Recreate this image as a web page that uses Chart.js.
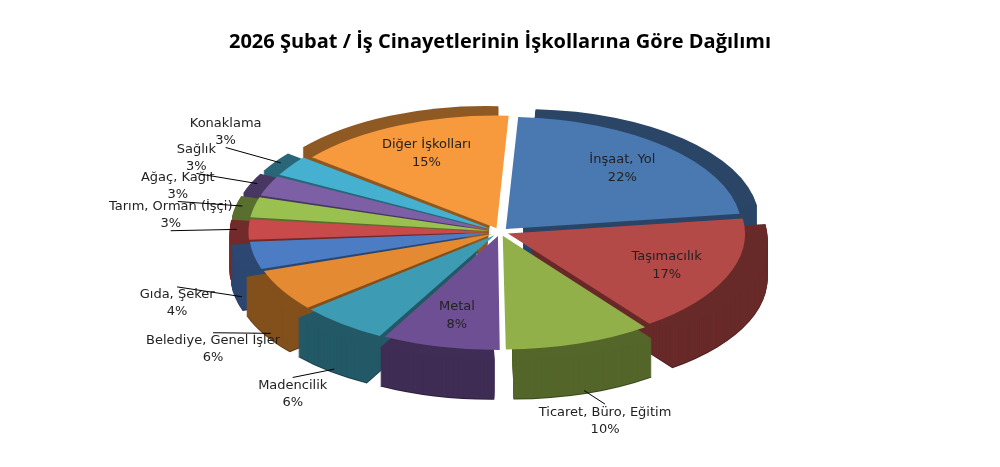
<!DOCTYPE html>
<html><head><meta charset="utf-8">
<script src="https://cdn.jsdelivr.net/npm/chart.js@4"></script>
<style>body{margin:0;background:#fff}#w{width:1000px;height:467px}</style>
</head><body><div id="w"><canvas id="c"></canvas></div>
<script>
const categories=["İnşaat, Yol","Taşımacılık","Ticaret, Büro, Eğitim","Metal","Madencilik","Belediye, Genel İşler","Gıda, Şeker","Tarım, Orman (İşçi)","Ağaç, Kağıt","Sağlık","Konaklama","Diğer İşkolları"];
const values=[22,17,10,8,6,6,4,3,3,3,3,15];
const colors=["#4a78b0","#b44a47","#91b04a","#6e4f93","#3d9bb3","#e38a32","#4c7cc4","#c84a4a","#9ac050","#7d5fa6","#45b0cf","#f79a3e"];
const inside=[true,true,false,true,false,false,false,false,false,false,false,true];
const TCX=500,TCY=232,RX=236,RY=112,DEPTH=40;
function dark(h,f){const n=parseInt(h.slice(1),16);return `rgb(${((n>>16)&255)*f|0},${((n>>8)&255)*f|0},${(n&255)*f|0})`;}
let T=null;
function calcT(chart){const a=chart.getDatasetMeta(0).data[0];const r=a.outerRadius;T={cx:a.x,cy:a.y,r,sx:RX/r,sy:RY/r};}
function map(x,y){return [TCX+(x-T.cx)*T.sx,TCY+(y-T.cy)*T.sy];}
const p3d={id:'p3d',
beforeDatasetsDraw(chart){calcT(chart);const ctx=chart.ctx;const meta=chart.getDatasetMeta(0);
 ctx.save();ctx.translate(TCX,TCY);ctx.scale(T.sx,T.sy);ctx.translate(-T.cx,-T.cy);
 for(let d=DEPTH;d>=1;d-=1){meta.data.forEach((a,i)=>{const mid=(a.startAngle+a.endAngle)/2;const off=a.options.offset;
  const ox=a.x+off*Math.cos(mid),oy=a.y+off*Math.sin(mid)+d/T.sy;
  ctx.beginPath();ctx.moveTo(ox,oy);ctx.arc(ox,oy,a.outerRadius,a.startAngle,a.endAngle);ctx.closePath();
  ctx.fillStyle=dark(colors[i],d===DEPTH?0.4:0.58);ctx.fill();});}
},
afterDatasetsDraw(chart){chart.ctx.restore();},
afterDraw(chart){const ctx=chart.ctx;const meta=chart.getDatasetMeta(0);
 ctx.save();ctx.font='13px "DejaVu Sans", sans-serif';ctx.textAlign='center';ctx.textBaseline='middle';
 meta.data.forEach((a,i)=>{const off=a.options.offset;const mid=(a.startAngle+a.endAngle)/2;const txt=[categories[i],values[i]+'%'];
  if(inside[i]){const [x,y]=map(a.x+(off+a.outerRadius*0.62)*Math.cos(mid),a.y+(off+a.outerRadius*0.62)*Math.sin(mid));
   ctx.fillStyle='#222';ctx.fillText(txt[0],x,y-9);ctx.fillText(txt[1],x,y+9);}
  else{const down=Math.sin(mid)>0;const [ex,ey]=map(a.x+(off+a.outerRadius*0.97)*Math.cos(mid),a.y+(off+a.outerRadius*0.97)*Math.sin(mid));
   const k=1.25;const [lx,ly]=map(a.x+(off+a.outerRadius*k)*Math.cos(mid),a.y+(off+a.outerRadius*k)*Math.sin(mid));
   const yy=ly+(down?DEPTH:-14);
   ctx.strokeStyle='#000';ctx.lineWidth=1;ctx.beginPath();ctx.moveTo(ex,ey+(down?DEPTH:0));ctx.lineTo(lx,yy+(down?-16:16));ctx.stroke();
   ctx.fillStyle='#222';ctx.fillText(txt[0],lx,yy-8);ctx.fillText(txt[1],lx,yy+9);}
 });ctx.restore();}
};
new Chart(document.getElementById('c'),{type:'pie',
 data:{labels:categories,datasets:[{data:values,backgroundColor:colors,borderWidth:0,offset:26,clip:false}]},
 options:{responsive:true,maintainAspectRatio:false,animation:false,rotation:3,
  layout:{padding:{top:20,bottom:20}},
  plugins:{legend:{display:false},tooltip:{enabled:false},
   title:{display:true,text:'2026 Şubat / İş Cinayetlerinin İşkollarına Göre Dağılımı',color:'#000',font:{size:20,weight:'bold',family:'"Open Sans", sans-serif'},padding:{top:10,bottom:10}}}},
 plugins:[p3d]});
</script></body></html>
